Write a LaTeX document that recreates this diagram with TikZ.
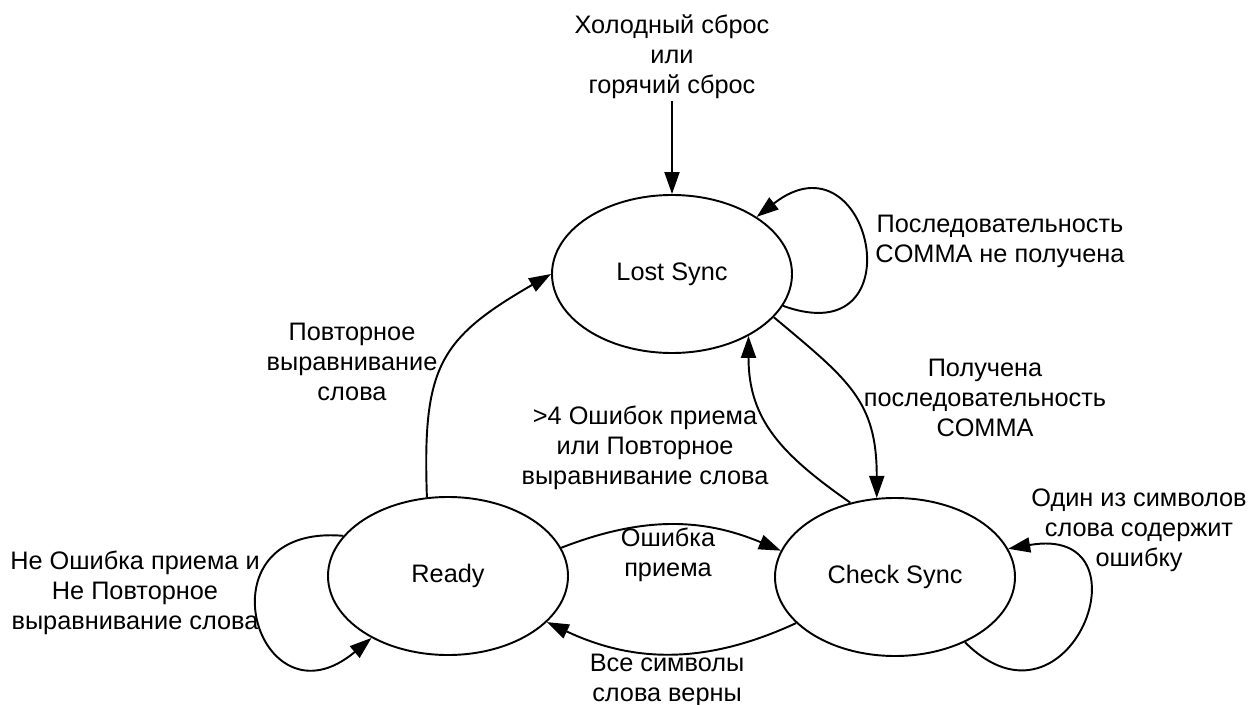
\documentclass[tikz,border=0pt]{standalone}
\usepackage{fontspec}
\setmainfont{Liberation Sans}
\usetikzlibrary{arrows.meta,shapes.geometric}

\tikzset{
  state/.style={ellipse, draw, line width=1.1pt, minimum width=4.8cm, minimum height=3.16cm, inner sep=0pt, font=\fontsize{14.4}{17}\selectfont},
  note/.style={align=center, inner sep=1pt, font=\fontsize{14.4}{17}\selectfont},
  trans/.style={-{Triangle[length=4.4mm, width=3mm]}, line width=1.1pt}
}

\begin{document}
\begin{tikzpicture}
    \useasboundingbox (0, 0) rectangle (25, 14.08);

    \node (ls) [state] at (13.44, 8.60) {Lost Sync};
    \node (rd) [state] at (8.96, 2.56) {Ready};
    \node (cs) [state] at (17.90, 2.54) {Check Sync};

    \node (reset) [note] at (13.44, 12.94) {Холодный сброс\\или\\горячий сброс};
    \node (l0) [note] at (20.00, 9.26) {Последовательность\\COMMA не получена};
    \node (l1) [note] at (19.70, 6.12) {Получена\\последовательность\\COMMA};
    \node (l2) [note] at (12.90, 5.12) {>4 Ошибок приема\\или Повторное\\выравнивание слова};
    \node (l3) [note] at (7.04, 6.84) {Повторное\\выравнивание\\слова};
    \node (l4) [note] at (13.36, 2.98) {Ошибка\\приема};
    \node (l5) [note] at (13.34, 0.48) {Все символы\\слова верны};
    \node (l6) [note] at (2.70, 2.22) {Не Ошибка приема и\\Не Повторное\\выравнивание слова};
    \node (l7) [note] at (22.78, 3.48) {Один из символов\\слова содержит\\ошибку};

    \path[trans]
    (reset) edge (ls)
    (ls.-16) edge[out=-20, in=38, looseness=4] (ls.34)
    (ls.-23) edge[out=-40, in=90, looseness=1.2] (cs.103)
    (cs.121) edge[out=145, in=-90, looseness=1.1] (ls.-39)
    (rd.105) edge[out=92, in=-150, looseness=1.3] (ls.180)
    (rd.14) edge[bend left=22] (cs.167)
    (cs.205) edge[bend left=25] (rd.-25)
    (rd.159) edge[out=175, in=220, looseness=3.6] (rd.219)
    (cs.-43) edge[out=-45, in=10, looseness=3.7] (cs.14);
\end{tikzpicture}
\end{document}
